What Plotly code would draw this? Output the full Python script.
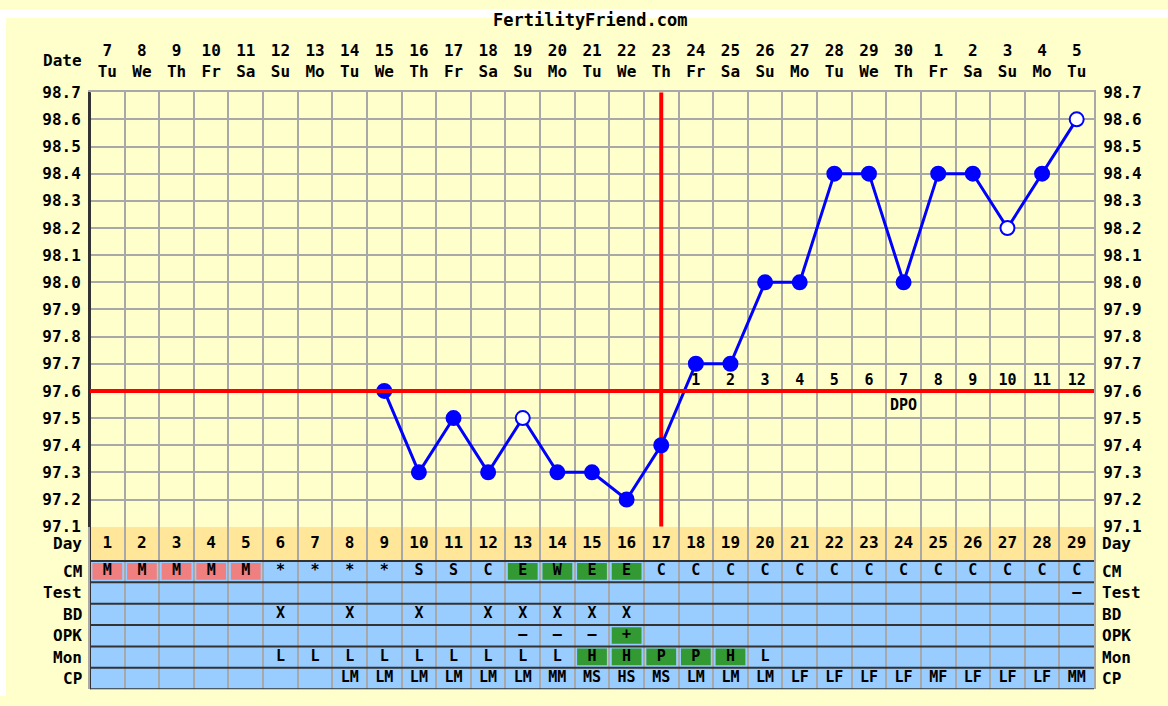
import plotly.graph_objects as go

W, H = 1168, 706

# ---------------- data ----------------
days = list(range(1, 30))
dates = [7, 8, 9, 10, 11, 12, 13, 14, 15, 16, 17, 18, 19, 20, 21, 22, 23, 24, 25, 26,
         27, 28, 29, 30, 1, 2, 3, 4, 5]
weekdays = ["Tu", "We", "Th", "Fr", "Sa", "Su", "Mo"] * 4 + ["Tu"]
temps = [None] * 8 + [97.6, 97.3, 97.5, 97.3, 97.5, 97.3, 97.3, 97.2, 97.4, 97.7, 97.7,
                      98.0, 98.0, 98.4, 98.4, 98.0, 98.4, 98.4, 98.2, 98.4, 98.6]
open_days = [13, 27, 29]
coverline = 97.6
ovulation_day = 17
dpo_days = list(range(18, 30))
dpo_labels = [str(i) for i in range(1, 13)]
temp_ticks = [round(97.1 + 0.1 * i, 1) for i in range(17)]

cm = ["M"] * 5 + ["*"] * 4 + ["S", "S", "C", "E", "W", "E", "E"] + ["C"] * 13
cm_pink = [1, 2, 3, 4, 5]
cm_green = [13, 14, 15, 16]
test = [""] * 28 + ["–"]
bd = ["", "", "", "", "", "X", "", "X", "", "X", "", "X", "X", "X", "X", "X"] + [""] * 13
opk = [""] * 12 + ["–", "–", "–", "+"] + [""] * 13
opk_green = [16]
mon = [""] * 5 + ["L"] * 9 + ["H", "H", "P", "P", "H", "L"] + [""] * 9
mon_green = [15, 16, 17, 18, 19]
cp = [""] * 7 + ["LM"] * 6 + ["MM", "MS", "HS", "MS", "LM", "LM", "LM", "LF", "LF", "LF",
                              "LF", "MF", "LF", "LF", "LF", "MM"]
row_names = ["CP", "Mon", "OPK", "BD", "Test", "CM"]   # bottom -> top
row_values = [cp, mon, opk, bd, test, cm]

# ---------------- style ----------------
YEL = "#FFFFCC"
DAYROW = "#FFE699"
BLUE_CELL = "#99CCFF"
PINK = "#F08080"
GREEN = "#339933"
GRID = "#A8A8A8"
DARK = "#333333"
FONT = "DejaVu Sans Mono"
fnt = dict(family=FONT, size=16, color="#000000", weight="bold")


def px_x(p):
    return p / W


def px_y(p):
    return 1 - p / H


X_DOM = [px_x(90), px_x(1094)]
Y_DOM = [px_y(532), px_y(85.5)]
Y2_DOM = [px_y(699), px_y(532)]
DAY_TOP = 7.6

fig = go.Figure()

# temperature line
fig.add_trace(go.Scatter(
    x=days, y=temps, mode="lines+markers", connectgaps=False,
    line=dict(color="#0000FF", width=3),
    marker=dict(size=14, symbol="circle",
                color=["#FFFFFF" if d in open_days else "#0000FF" for d in days],
                line=dict(color="#0000FF", width=2)),
    hoverinfo="skip", showlegend=False, xaxis="x", yaxis="y"))

# DPO labels
fig.add_trace(go.Scatter(
    x=dpo_days, y=[coverline + 0.035] * len(dpo_days), mode="text", text=dpo_labels,
    textfont=dict(family=FONT, size=15, color="#000", weight="bold"),
    hoverinfo="skip", showlegend=False, xaxis="x", yaxis="y"))
fig.add_trace(go.Scatter(
    x=[24], y=[coverline - 0.055], mode="text", text=["DPO"],
    textfont=dict(family=FONT, size=15, color="#000", weight="bold"),
    hoverinfo="skip", showlegend=False, xaxis="x", yaxis="y"))

# table: day numbers
fig.add_trace(go.Scatter(
    x=days, y=[6.8] * len(days), mode="text", text=[str(d) for d in days],
    textfont=fnt, hoverinfo="skip", showlegend=False, xaxis="x", yaxis="y2"))
for i, vals in enumerate(row_values):
    xs = [d for d, v in zip(days, vals) if v]
    ts = [v for v in vals if v]
    fig.add_trace(go.Scatter(
        x=xs, y=[i + 0.5] * len(xs), mode="text", text=ts,
        textfont=dict(family=FONT, size=15, color="#000", weight="bold"),
        hoverinfo="skip", showlegend=False, xaxis="x", yaxis="y2"))

# invisible traces to activate overlay axes
fig.add_trace(go.Scatter(x=[1], y=[97.1], mode="markers", marker=dict(opacity=0),
                         hoverinfo="skip", showlegend=False, xaxis="x2", yaxis="y"))
fig.add_trace(go.Scatter(x=[1], y=[97.1], mode="markers", marker=dict(opacity=0),
                         hoverinfo="skip", showlegend=False, xaxis="x", yaxis="y3"))

shapes = []
# page frame: white strips
shapes.append(dict(type="rect", xref="paper", yref="paper", x0=0, x1=1, y0=px_y(9), y1=1,
                   fillcolor="#FFFFFF", line_width=0, layer="below"))
shapes.append(dict(type="rect", xref="paper", yref="paper", x0=0, x1=px_x(6), y0=0, y1=1,
                   fillcolor="#FFFFFF", line_width=0, layer="below"))
# table backgrounds
shapes.append(dict(type="rect", xref="x", yref="y2", x0=0.5, x1=29.5, y0=6, y1=DAY_TOP,
                   fillcolor=DAYROW, line_width=0, layer="below"))
shapes.append(dict(type="rect", xref="x", yref="y2", x0=0.5, x1=29.5, y0=0, y1=6,
                   fillcolor=BLUE_CELL, line_width=0, layer="below"))


def cell(day, row, color):
    return dict(type="rect", xref="x", yref="y2", x0=day - 0.43, x1=day + 0.43,
                y0=row + 0.12, y1=row + 0.9, fillcolor=color, line_width=0, layer="below")


for d in cm_pink:
    shapes.append(cell(d, 5, PINK))
for d in cm_green:
    shapes.append(cell(d, 5, GREEN))
for d in opk_green:
    shapes.append(cell(d, 2, GREEN))
for d in mon_green:
    shapes.append(cell(d, 1, GREEN))

# table horizontal separators
for r in range(0, 7):
    shapes.append(dict(type="line", xref="x", yref="y2", x0=0.5, x1=29.5, y0=r, y1=r,
                       line=dict(color=DARK, width=2), layer="above"))
# left border
shapes.append(dict(type="line", xref="x", yref="paper", x0=0.5, x1=0.5,
                   y0=Y2_DOM[0], y1=Y_DOM[1], line=dict(color=DARK, width=2), layer="above"))
# coverline & ovulation line
shapes.append(dict(type="line", xref="x", yref="y", x0=ovulation_day, x1=ovulation_day,
                   y0=97.1, y1=98.7, line=dict(color="#FF0000", width=4), layer="between"))
shapes.append(dict(type="line", xref="x", yref="y", x0=0.5, x1=29.5, y0=coverline, y1=coverline,
                   line=dict(color="#FF0000", width=4), layer="above"))

annotations = [
    dict(text="FertilityFriend.com", xref="paper", yref="paper", x=px_x(590), y=px_y(11),
         xanchor="center", yanchor="middle",
         showarrow=False, font=dict(family=FONT, size=17, color="#000", weight="bold")),
    dict(text="Date", xref="paper", yref="paper", x=px_x(84), y=px_y(53), xanchor="right",
         yanchor="middle", showarrow=False, font=fnt),
    dict(text="Day", xref="paper", yref="y2", x=px_x(84), y=6.8, xanchor="right",
         yanchor="middle", showarrow=False, font=fnt),
    dict(text="Day", xref="paper", yref="y2", x=px_x(1100), y=6.8, xanchor="left",
         yanchor="middle", showarrow=False, font=fnt),
]
for i, name in enumerate(row_names):
    annotations.append(dict(text=name, xref="paper", yref="y2", x=px_x(84), y=i + 0.5,
                            xanchor="right", yanchor="middle", showarrow=False, font=fnt))
    annotations.append(dict(text=name, xref="paper", yref="y2", x=px_x(1100), y=i + 0.5,
                            xanchor="left", yanchor="middle", showarrow=False, font=fnt))

tick_txt = [f"{v:.1f}" for v in temp_ticks]

fig.update_layout(
    width=W, height=H, margin=dict(l=0, r=0, t=0, b=0),
    paper_bgcolor=YEL, plot_bgcolor=YEL,
    shapes=shapes, annotations=annotations,
    xaxis=dict(domain=X_DOM, range=[0.5, 29.5], anchor="y",
               tickvals=[d - 0.5 for d in days] + [29.5], showticklabels=False, ticks="",
               showgrid=True, gridcolor=GRID, gridwidth=2, zeroline=False,
               showline=True, linecolor=DARK, linewidth=2, fixedrange=True),
    xaxis2=dict(domain=X_DOM, range=[0.5, 29.5], overlaying="x", side="top", anchor="y",
                tickmode="array", tickvals=days,
                ticktext=[f"{a}<br>{b}" for a, b in zip(dates, weekdays)],
                tickfont=fnt, ticks="", showgrid=False, zeroline=False,
                showline=True, linecolor=GRID, linewidth=2, ticklabelstandoff=7),
    yaxis=dict(domain=Y_DOM, range=[97.1, 98.7], anchor="x",
               tickvals=temp_ticks, ticktext=tick_txt, tickfont=fnt, ticks="",
               showgrid=True, gridcolor=GRID, gridwidth=2, zeroline=False,
               showline=True, linecolor=DARK, linewidth=2, ticklabelstandoff=4),
    yaxis3=dict(domain=Y_DOM, range=[97.1, 98.7], overlaying="y", side="right", anchor="x",
                tickvals=temp_ticks, ticktext=tick_txt, tickfont=fnt, ticks="",
                showgrid=False, zeroline=False,
                showline=True, linecolor=GRID, linewidth=2, ticklabelstandoff=4),
    yaxis2=dict(domain=Y2_DOM, range=[0, DAY_TOP], anchor="x", showticklabels=False,
                ticks="", showgrid=False, zeroline=False,
                showline=True, linecolor=GRID, linewidth=2, mirror=True),
    showlegend=False,
)

fig.write_html("out.html", post_script="document.body.style.margin='0';",
               config={"displayModeBar": False})
